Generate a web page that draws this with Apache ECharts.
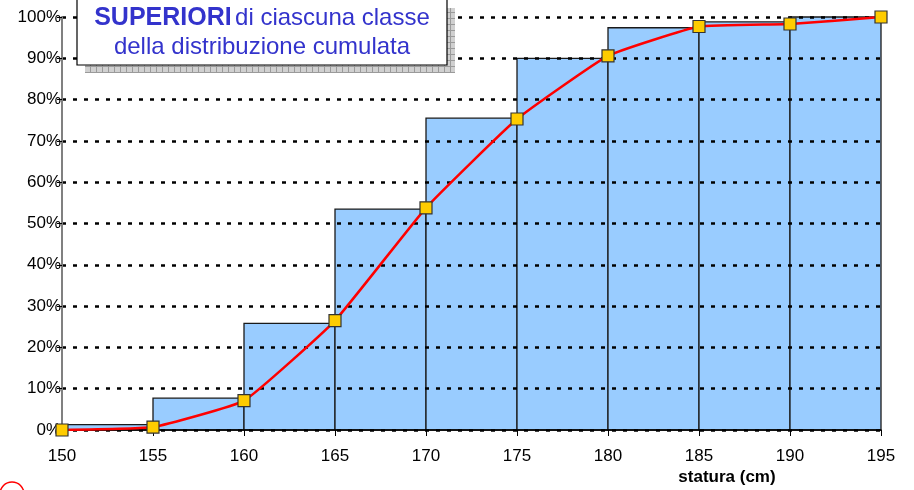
<!DOCTYPE html>
<html>
<head>
<meta charset="utf-8">
<script src="https://cdn.jsdelivr.net/npm/echarts@6/dist/echarts.min.js"></script>
<style>
  html, body { margin: 0; padding: 0; background: #fff; }
  #chart { width: 914px; height: 490px; }
</style>
</head>
<body>
<div id="chart"></div>
<script>
// classi di statura (estremi) e percentuali cumulate
const classStart = [150, 155, 160, 165, 170, 175, 180, 185, 190];
const classEnd = [155, 160, 165, 170, 175, 180, 185, 190, 195];
const barValues = [1.3, 7.7, 25.8, 53.5, 75.5, 90.0, 97.4, 98.8, 100];
const pointX = [150, 155, 160, 165, 170, 175, 180, 185, 190, 195];
const pointY = [0, 0.7, 7.1, 26.5, 53.8, 75.3, 90.6, 97.7, 98.3, 100];
const xTicks = [150, 155, 160, 165, 170, 175, 180, 185, 190, 195];

const chart = echarts.init(document.getElementById('chart'));

// pattern a griglia per l'ombra del riquadro
const pat = document.createElement('canvas');
pat.width = 6; pat.height = 6;
const pc = pat.getContext('2d');
pc.fillStyle = '#d0d0d0';
pc.fillRect(0, 0, 6, 6);
pc.fillStyle = '#9a9a9a';
pc.fillRect(0, 0, 6, 1);
pc.fillRect(0, 0, 1, 6);

const barData = classStart.map((s, i) => [s, classEnd[i], barValues[i]]);
const lineData = pointX.map((x, i) => [x, pointY[i]]);

const option = {
  animation: false,
  grid: { left: 62, right: 33, top: 17, bottom: 60 },
  xAxis: {
    type: 'value',
    min: 150,
    max: 195,
    interval: 5,
    name: 'statura (cm)',
    nameLocation: 'end',
    nameGap: 0,
    nameTextStyle: {
      fontFamily: 'Liberation Sans', fontSize: 17, fontWeight: 'bold', color: '#000',
      align: 'center', verticalAlign: 'top', padding: [39, 308, 0, 0]
    },
    axisLine: { lineStyle: { color: '#000', width: 1.5 } },
    axisTick: { show: true, length: 6, lineStyle: { color: '#000' } },
    axisLabel: {
      fontFamily: 'Liberation Sans', fontSize: 17, color: '#000', margin: 18,
      formatter: v => xTicks.includes(v) ? String(v) : ''
    },
    splitLine: { show: false }
  },
  yAxis: {
    type: 'value',
    min: 0,
    max: 100,
    interval: 10,
    axisLine: { show: true, lineStyle: { color: '#808080', width: 2 } },
    axisTick: { show: true, inside: false, length: 5, lineStyle: { color: '#000' } },
    axisLabel: {
      fontFamily: 'Liberation Sans', fontSize: 17, color: '#000', margin: 1,
      formatter: '{value}%'
    },
    splitLine: {
      show: true,
      lineStyle: { color: '#000', width: 2.5, type: [4, 7] }
    }
  },
  series: [
    {
      type: 'custom',
      z: -1,
      data: barData,
      encode: { x: [0, 1], y: 2 },
      renderItem: (params, api) => {
        const p0 = api.coord([api.value(0), api.value(2)]);
        const p1 = api.coord([api.value(1), 0]);
        return {
          type: 'rect',
          shape: { x: p0[0], y: p0[1], width: p1[0] - p0[0], height: p1[1] - p0[1] },
          style: { fill: '#99ccff', stroke: '#1a1a1a', lineWidth: 1.3 }
        };
      }
    },
    {
      type: 'line',
      data: lineData,
      smooth: 0.12,
      z: 5,
      lineStyle: { color: '#ff0000', width: 2.5 },
      symbol: 'rect',
      symbolSize: 12,
      itemStyle: { color: '#ffcc00', borderColor: '#333', borderWidth: 1.2 }
    }
  ],
  graphic: [
    {
      type: 'rect', z: 100,
      shape: { x: 85, y: 8, width: 370, height: 65 },
      style: { fill: { image: pat, repeat: 'repeat' } }
    },
    {
      type: 'rect', z: 101,
      shape: { x: 77, y: -2, width: 370, height: 67 },
      style: { fill: '#fff', stroke: '#000', lineWidth: 1.2 }
    },
    {
      type: 'text', z: 102,
      x: 262, y: 4,
      style: {
        text: '{b|SUPERIORI} {n|di ciascuna classe}\n{n|della distribuzione cumulata}',
        align: 'center',
        verticalAlign: 'top',
        rich: {
          b: { fontFamily: 'Liberation Sans', fontSize: 25, fontWeight: 'bold', fill: '#3333cc', lineHeight: 29, align: 'center' },
          n: { fontFamily: 'Liberation Sans', fontSize: 24, fill: '#3333cc', lineHeight: 29, align: 'center' }
        }
      }
    },
    {
      type: 'circle', z: 100,
      shape: { cx: 12, cy: 494, r: 12 },
      style: { fill: 'none', stroke: '#ff0000', lineWidth: 1.5 }
    }
  ]
};

chart.setOption(option);
</script>
</body>
</html>
